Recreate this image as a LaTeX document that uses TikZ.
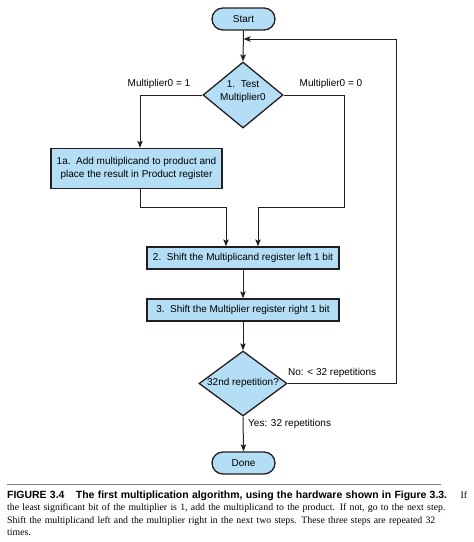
\documentclass[tikz,border=0pt]{standalone}
\usepackage{fontspec}
\setmainfont{Liberation Sans}
\newfontfamily\capserif{Liberation Serif}
\newfontfamily\capsans{Liberation Sans}
\usetikzlibrary{shapes.geometric,arrows.meta}
\definecolor{boxfill}{RGB}{180,222,245}
\definecolor{boxline}{RGB}{35,31,32}
\definecolor{rulegray}{RGB}{125,125,125}
\begin{document}
\begin{tikzpicture}[x=1pt,y=-1pt,
  proc/.style={draw=boxline, fill=boxfill, line width=1.3pt, inner sep=0pt,
    minimum height=22pt, font=\fontsize{10}{13}\selectfont, align=center},
  term/.style={proc, rounded corners=11pt, minimum width=63pt},
  dec/.style={diamond, draw=boxline, fill=boxfill, line width=1.3pt, inner sep=0pt},
  conn/.style={draw=boxline, line width=1pt},
  arr/.style={conn, -{Stealth[length=7pt,width=5.5pt,inset=1.5pt]}},
  lbl/.style={font=\fontsize{10}{13}\selectfont, inner sep=0pt, align=center}]
\useasboundingbox (0,0) rectangle (474,542);

% nodes
\node[term] (start) at (243.5,19) {Start};
\node[dec, minimum width=80pt, minimum height=66pt] (test) at (243,95) {};
\node[lbl] (testtxt) at (243,92) {1.\ \ Test\\Multiplier0};
\node[proc, minimum width=171pt, minimum height=40pt] (box1a) at (136.5,168.5)
  {1a.\ \ Add multiplicand to product and\\place the result in Product register};
\node[proc, minimum width=192pt] (box2) at (243,258) {2.\ \ Shift the Multiplicand register left 1 bit};
\node[proc, minimum width=192pt] (box3) at (243,310) {3.\ \ Shift the Multiplier register right 1 bit};
\node[dec, minimum width=88pt, minimum height=65pt] (rep) at (243,383.5) {};
\node[lbl] (reptxt) at (243,383) {32nd repetition?};
\node[term] (done) at (243.5,463) {Done};

% labels
\node[lbl] (m1) at (159,84) {Multiplier0 = 1};
\node[lbl] (m0) at (331,84) {Multiplier0 = 0};
\node[lbl, anchor=west] (no) at (288,373) {No: < 32 repetitions};
\node[lbl, anchor=west] (yes) at (248,424) {Yes: 32 repetitions};

% connectors
\coordinate (rj) at (344,207);
\coordinate (fb) at (396,39);
\draw[arr] (start.south) -- (test.north);
\draw[arr] (test.west) -| ([xshift=3.5pt]box1a.north);
\draw[arr] ([xshift=3.5pt]box1a.south) -- ++(0,18.5) -| ([xshift=-17pt]box2.north);
\draw[arr] (test.east) -| (rj) -| ([xshift=15pt]box2.north);
\draw[arr] (box2.south) -- (box3.north);
\draw[arr] (box3.south) -- (rep.north);
\draw[arr] (rep.south) -- (done.north);
\draw[arr] (rep.east) -| (fb) -- (fb -| start.south);

% caption
\draw[rulegray, line width=1.5pt] (7,484.5) -- (441,484.5);
\node[anchor=north west, inner sep=0pt, text width=460pt,
  font=\capserif\fontsize{9.8}{12.4}\selectfont] (caption) at (7,490.5)
{\noindent\makebox[460pt][l]{{\capsans\bfseries\fontsize{10.45}{12}\selectfont FIGURE 3.4\hspace{1.1em}The first multiplication algorithm, using the hardware shown in Figure 3.3.}\hfill If}\\
\makebox[460pt][s]{the least significant bit of the multiplier is 1, add the multiplicand to the product. If not, go to the next step.}\\
\makebox[460pt][s]{Shift the multiplicand left and the multiplier right in the next two steps. These three steps are repeated 32}\\
times.};
\end{tikzpicture}
\end{document}
